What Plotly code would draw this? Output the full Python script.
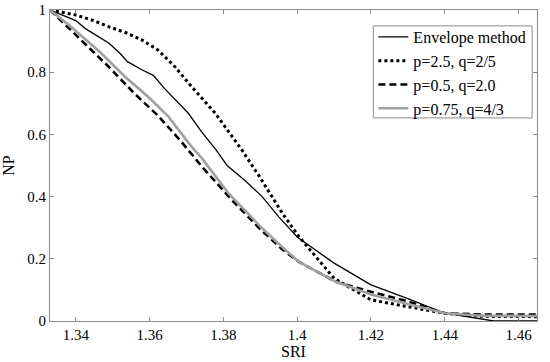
import plotly.graph_objects as go

# SRI values and NP values
env_x = [1.333, 1.336, 1.340, 1.3425, 1.345, 1.349, 1.352, 1.354, 1.358, 1.361, 1.364, 1.367,
         1.3705, 1.374, 1.378, 1.381, 1.386, 1.3905, 1.395, 1.400, 1.410, 1.420, 1.430, 1.440,
         1.4533, 1.465]
env_y = [1.0, 0.985, 0.966, 0.941, 0.922, 0.893, 0.86, 0.834, 0.807, 0.79, 0.748, 0.71,
         0.668, 0.61, 0.55, 0.50, 0.45, 0.40, 0.335, 0.27, 0.186, 0.116, 0.072, 0.025,
         0.0, 0.0]

p25_x = [1.333, 1.340, 1.345, 1.349, 1.354, 1.358, 1.3623, 1.3669, 1.3714, 1.3778, 1.385,
         1.390, 1.396, 1.4005, 1.410, 1.420, 1.430, 1.440, 1.450, 1.465]
p25_y = [1.0, 0.984, 0.965, 0.946, 0.925, 0.903, 0.871, 0.817, 0.753, 0.668, 0.55,
         0.46, 0.346, 0.271, 0.137, 0.068, 0.046, 0.025, 0.015, 0.014]

p05_x = [1.333, 1.3396, 1.3487, 1.356, 1.3623, 1.3687, 1.3742, 1.3823, 1.390, 1.396, 1.4005,
         1.4105, 1.420, 1.430, 1.440, 1.450, 1.465]
p05_y = [1.0, 0.925, 0.82, 0.73, 0.66, 0.575, 0.496, 0.389, 0.295, 0.23, 0.19,
         0.126, 0.094, 0.063, 0.025, 0.021, 0.021]

p075_x = [1.333, 1.3387, 1.3469, 1.3532, 1.3596, 1.3651, 1.3714, 1.3742, 1.3814, 1.3905,
          1.396, 1.4005, 1.4105, 1.420, 1.430, 1.440, 1.450, 1.465]
p075_y = [1.0, 0.946, 0.861, 0.787, 0.721, 0.657, 0.56, 0.523, 0.41, 0.298,
          0.237, 0.19, 0.126, 0.085, 0.055, 0.025, 0.017, 0.016]

names = ["Envelope method", "p=2.5, q=2/5", "p=0.5, q=2.0", "p=0.75, q=4/3"]

x_ticks = [1.34, 1.36, 1.38, 1.40, 1.42, 1.44, 1.46]
x_tick_text = ["1.34", "1.36", "1.38", "1.4", "1.42", "1.44", "1.46"]
y_ticks = [0, 0.2, 0.4, 0.6, 0.8, 1.0]
y_tick_text = ["0", "0.2", "0.4", "0.6", "0.8", "1"]

FONT = "Liberation Serif, DejaVu Serif, serif"
GREY = "#8c8c8c"

fig = go.Figure()
fig.add_trace(go.Scatter(x=env_x, y=env_y, mode="lines", name=names[0],
                         line=dict(color="black", width=1.3)))
fig.add_trace(go.Scatter(x=p25_x, y=p25_y, mode="lines", name=names[1],
                         line=dict(color="black", width=3, dash="3px,3px")))
fig.add_trace(go.Scatter(x=p05_x, y=p05_y, mode="lines", name=names[2],
                         line=dict(color="black", width=2.6, dash="7px,4px")))
fig.add_trace(go.Scatter(x=p075_x, y=p075_y, mode="lines", name=names[3],
                         line=dict(color="#a0a0a0", width=2.6)))

axis_common = dict(
    showline=True, linecolor=GREY, linewidth=1, mirror="ticks",
    ticks="inside", ticklen=4, tickcolor=GREY, tickwidth=1,
    showgrid=False, zeroline=False, ticklabeloverflow="allow",
    tickfont=dict(family=FONT, size=15, color="black"),
)

# legend frame (paper coordinates)
fig.add_shape(type="rect", xref="paper", yref="paper",
              x0=0.664, x1=0.990, y0=0.653, y1=0.949,
              line=dict(color=GREY, width=1), fillcolor="white", layer="below")

fig.update_layout(
    width=550, height=362,
    margin=dict(l=49.5, r=13, t=10, b=41),
    paper_bgcolor="white", plot_bgcolor="white",
    font=dict(family=FONT, size=15, color="black"),
    xaxis=dict(range=[1.333, 1.465], tickvals=x_ticks, ticktext=x_tick_text,
               title=dict(text="SRI", font=dict(family=FONT, size=16), standoff=0),
               automargin=False, **axis_common),
    yaxis=dict(range=[0, 1.0], tickvals=y_ticks, ticktext=y_tick_text,
               title=dict(text="NP", font=dict(family=FONT, size=16), standoff=8),
               automargin=False, **axis_common),
    legend=dict(x=0.664, y=0.968, xanchor="left", yanchor="top",
                bgcolor="rgba(0,0,0,0)", borderwidth=0,
                font=dict(family=FONT, size=16, color="black"),
                itemwidth=30, tracegroupgap=0),
    showlegend=True,
)

fig.write_html("out.html",
               config={"displayModeBar": False},
               post_script="document.body.style.margin='0';document.body.style.padding='0';")
